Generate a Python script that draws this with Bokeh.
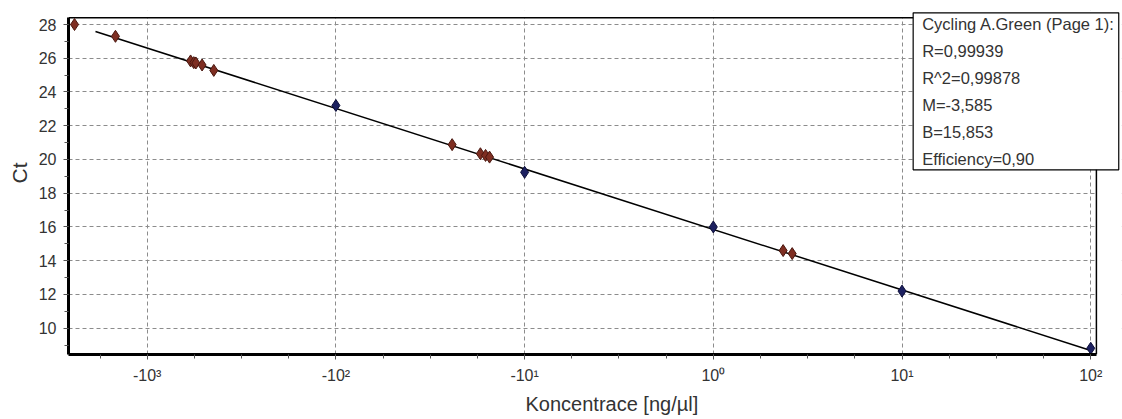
import numpy as np
from bokeh.plotting import figure
from bokeh.models import SingleIntervalTicker, Label, Range1d, Title
from bokeh.embed import file_html
from bokeh.resources import INLINE

# --- data ---
# standards (blue) : concentration [ng/ul] and Ct
std_conc = [0.01, 0.1, 1.0, 10.0, 100.0]
std_ct = [23.2, 19.24, 16.0, 12.2, 8.81]
# samples (red)
smp_conc = [0.000412, 0.000679, 0.001698, 0.001766, 0.001811, 0.001954, 0.002254,
            0.0413, 0.0583, 0.0621, 0.0652, 2.344, 2.618]
smp_ct = [28.0, 27.3, 25.84, 25.74, 25.72, 25.6, 25.28,
          20.88, 20.34, 20.24, 20.14, 14.6, 14.42]
# regression (from legend)
fit_M = -3.585
fit_B = 15.853
fit_conc = [0.000532, 100.0]
x_ticks = [-3, -2, -1, 0, 1, 2]
x_tick_labels = ["-10³", "-10²", "-10¹", "10⁰", "10¹", "10²"]
legend_lines = ["Cycling A.Green (Page 1):", "R=0,99939", "R^2=0,99878",
                "M=-3,585", "B=15,853", "Efficiency=0,90"]

FONT = "Liberation Sans"

# visible plot box (data units)
X0, X1 = -3.417, 2.03
Y0, Y1 = 8.441, 28.4

p = figure(width=1122, height=419, output_backend="svg", toolbar_location=None,
           x_range=Range1d(X0, 2.163), y_range=Range1d(Y0, 28.83),
           min_border_left=68, min_border_right=1, min_border_top=10,
           min_border_bottom=65)
p.background_fill_color = "white"
p.border_fill_color = "white"
p.outline_line_color = None

# grid
for g in (p.xgrid, p.ygrid):
    g.grid_line_color = "#8c8c8c"
    g.grid_line_dash = "4 3"
    g.grid_line_width = 1

# axes
xa = p.xaxis[0]
xa.ticker = SingleIntervalTicker(interval=1, num_minor_ticks=4)
xa.major_label_overrides = {t: l for t, l in zip(x_ticks, x_tick_labels)}
xa.bounds = (X0, X1)
ya = p.yaxis[0]
ya.ticker = SingleIntervalTicker(interval=2, num_minor_ticks=2)
ya.bounds = (Y0, Y1)
for a in (xa, ya):
    a.axis_line_width = 3
    a.axis_line_color = "black"
    a.major_tick_in = 0
    a.major_tick_out = 5
    a.minor_tick_in = 0
    a.minor_tick_out = 4
    a.major_tick_line_color = "#555555"
    a.minor_tick_line_color = "#555555"
    a.major_label_text_font = FONT
    a.major_label_text_font_size = "16px"
    a.major_label_text_color = "#333333"
xa.major_label_standoff = 7
ya.major_label_standoff = 7

# axis titles (as titles so they can be offset like in the reference)
p.add_layout(Title(text="Koncentrace [ng/µl]", align="left", offset=457,
                   text_font=FONT, text_font_size="20px", text_font_style="normal",
                   text_color="#333333", standoff=8), "below")
p.add_layout(Title(text="Ct", align="left", offset=171,
                   text_font=FONT, text_font_size="21px", text_font_style="normal",
                   text_color="#333333", standoff=10), "left")

# mask outside the visible box and draw its top/right border
p.quad(left=X1, right=2.3, bottom=Y0 - 1, top=30, fill_color="white", line_color=None)
p.quad(left=X0 - 1, right=2.3, bottom=Y1, top=30, fill_color="white", line_color=None)
p.line([X0, X1, X1], [Y1, Y1, Y0], line_color="black", line_width=1.5)

# regression line
fx = np.log10(np.array(fit_conc))
p.line(fx, fit_M * fx + fit_B, line_color="black", line_width=1.5)

# points
p.scatter(np.log10(smp_conc), smp_ct, marker="diamond", size=12,
          fill_color="#7e2e22", line_color="#4a1810", line_width=1)
p.scatter(np.log10(std_conc), std_ct, marker="diamond", size=12,
          fill_color="#1c2060", line_color="#0c0e38", line_width=1)

# statistics box
lab = Label(x=1.059, y=28.69, text="\n".join(legend_lines),
            anchor="top_left", text_font=FONT, text_font_size="16.5px",
            text_color="#333333", text_line_height=1.5,
            border_line_color="black", border_line_width=1.2,
            background_fill_color="white",
            padding=dict(left=9, right=4, top=2, bottom=2))
p.add_layout(lab)

open("out.html", "w").write(file_html(p, INLINE))
